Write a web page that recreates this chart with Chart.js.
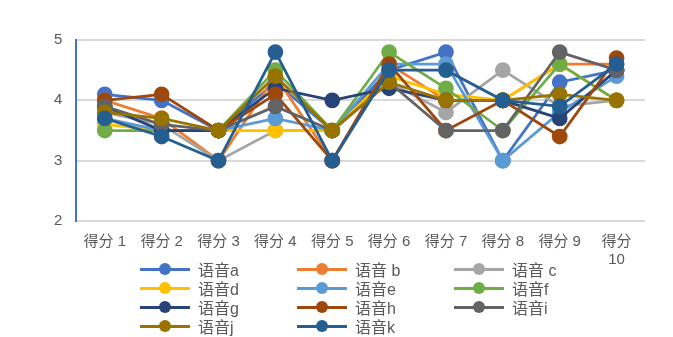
<!DOCTYPE html>
<html>
<head>
<meta charset="utf-8">
<script src="https://cdn.jsdelivr.net/npm/chart.js@4"></script>
<style>
  body { margin: 0; background: #fff; }
  #wrap { position: relative; width: 673px; height: 337px; }
  #legend {
    position: absolute; left: 140px; top: 259px;
    display: grid; grid-template-columns: 157px 157px 157px;
    grid-auto-rows: 19px;
    font-family: "Liberation Sans", "Noto Sans CJK SC", sans-serif;
    font-size: 16px; color: #595959;
  }
  .item { display: flex; align-items: center; white-space: pre; }
  .sw { position: relative; width: 50px; height: 12px; margin-right: 8px; }
  .sw .ln { position: absolute; left: 0; right: 0; top: 5px; height: 3px; }
  .sw .dt { position: absolute; left: 19px; top: 0; width: 12px; height: 12px; border-radius: 50%; }
</style>
</head>
<body>
<div id="wrap">
  <canvas id="chart" width="673" height="337"></canvas>
  <div id="legend"></div>
</div>
<script>
var categories = ["得分 1", "得分 2", "得分 3", "得分 4", "得分 5", "得分 6", "得分 7", "得分 8", "得分 9", ["得分", "10"]];
var seriesNames = ["语音a", "语音 b", "语音 c", "语音d", "语音e", "语音f", "语音g", "语音h", "语音i", "语音j", "语音k"];
var seriesColors = ["#4472C4", "#ED7D31", "#A5A5A5", "#FFC000", "#5B9BD5", "#70AD47", "#264478", "#9E480E", "#636363", "#997300", "#255E91"];

var voiceA = [4.1, 4.0, 3.5, 4.3, 3.5, 4.5, 4.8, 3.0, 4.3, 4.5];
var voiceB = [4.0, 3.7, 3.0, 4.4, 3.0, 4.6, 4.0, 4.0, 4.6, 4.6];
var voiceC = [3.8, 3.6, 3.0, 3.5, 3.5, 4.3, 3.8, 4.5, 3.9, 4.0];
var voiceD = [3.6, 3.5, 3.5, 3.5, 3.5, 4.4, 4.1, 4.0, 4.6, 4.0];
var voiceE = [3.7, 3.5, 3.5, 3.7, 3.5, 4.6, 4.6, 3.0, 3.8, 4.4];
var voiceF = [3.5, 3.5, 3.5, 4.5, 3.5, 4.8, 4.2, 3.5, 4.6, 4.0];
var voiceG = [3.9, 3.5, 3.5, 4.2, 4.0, 4.2, 4.0, 4.0, 3.7, 4.5];
var voiceH = [4.0, 4.1, 3.5, 4.1, 3.0, 4.6, 3.5, 4.0, 3.4, 4.7];
var voiceI = [3.9, 3.6, 3.5, 3.9, 3.5, 4.3, 3.5, 3.5, 4.8, 4.5];
var voiceJ = [3.8, 3.7, 3.5, 4.4, 3.5, 4.3, 4.0, 4.0, 4.1, 4.0];
var voiceK = [3.7, 3.4, 3.0, 4.8, 3.0, 4.5, 4.5, 4.0, 3.9, 4.6];
var seriesValues = [voiceA, voiceB, voiceC, voiceD, voiceE, voiceF, voiceG, voiceH, voiceI, voiceJ, voiceK];

var yTicks = [2, 3, 4, 5];

var datasets = seriesValues.map(function(vals, i) {
    return {
        label: seriesNames[i],
        data: vals,
        borderColor: seriesColors[i],
        backgroundColor: seriesColors[i],
        pointBackgroundColor: seriesColors[i],
        pointBorderColor: seriesColors[i],
        borderWidth: 2.75,
        pointRadius: 6.5,
        tension: 0,
        order: seriesValues.length - i // later series drawn on top, like Excel
    };
});

// legend as html, three columns with line + dot swatch
var legendBox = document.getElementById("legend");
seriesNames.forEach(function(name, i) {
    var item = document.createElement("div");
    item.className = "item";
    item.innerHTML = '<span class="sw"><span class="ln" style="background:' + seriesColors[i] + '"></span>' +
        '<span class="dt" style="background:' + seriesColors[i] + '"></span></span>';
    item.appendChild(document.createTextNode(name));
    legendBox.appendChild(item);
});

new Chart(document.getElementById("chart"), {
    type: 'line',
    data: { labels: categories, datasets: datasets },
    options: {
        responsive: false,
        animation: false,
        layout: { padding: { left: 40, right: 28, top: 40, bottom: 56 } },
        plugins: { legend: { display: false }, tooltip: { enabled: false } },
        scales: {
            x: {
                offset: true,
                grid: { display: false, drawTicks: false },
                border: { display: false },
                ticks: {
                    color: '#595959', maxRotation: 0, autoSkip: false, padding: 12,
                    font: { family: 'Liberation Sans, Noto Sans CJK SC', size: 15 }
                }
            },
            y: {
                min: 2, max: 5,
                afterBuildTicks: function(scale) {
                    scale.ticks = yTicks.map(function(v) { return { value: v }; });
                },
                grid: { color: '#d9d9d9', lineWidth: 2, drawTicks: false },
                border: { display: true, color: '#4472C4', width: 2 },
                ticks: {
                    color: '#595959', padding: 14,
                    font: { family: 'Liberation Sans', size: 15 }
                }
            }
        }
    }
});
</script>
</body>
</html>
